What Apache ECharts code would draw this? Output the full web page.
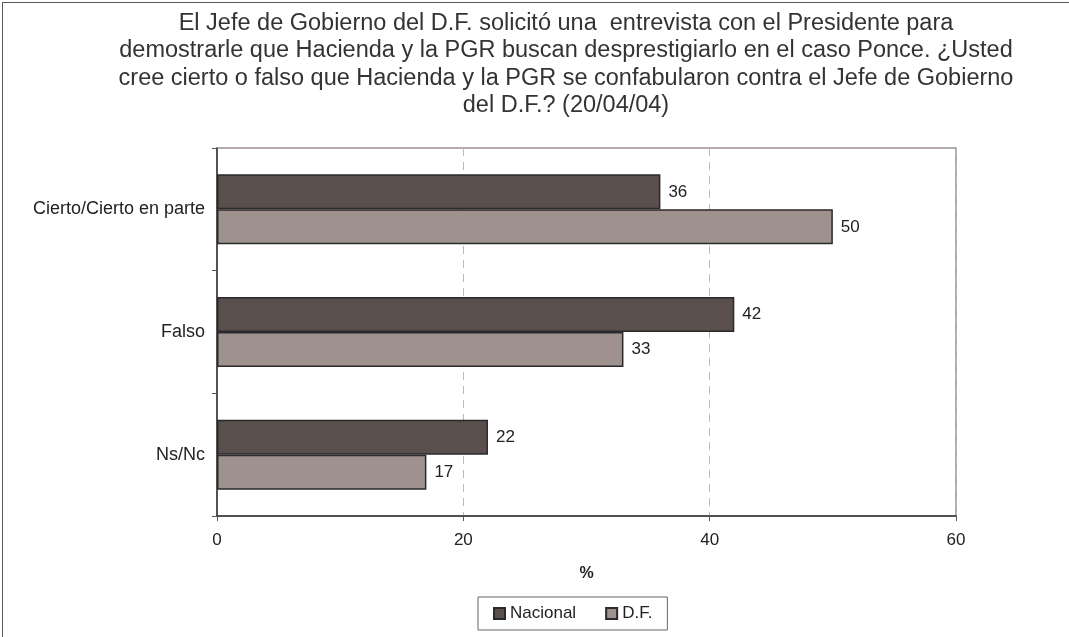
<!DOCTYPE html>
<html><head><meta charset="utf-8">
<script src="https://cdn.jsdelivr.net/npm/echarts@6/dist/echarts.min.js"></script>
<style>
html,body{margin:0;padding:0;background:#fff;}
#frame{position:absolute;left:2px;top:2px;width:1075px;height:645px;border:1px solid #5a5a5a;box-sizing:border-box;}
#c{position:absolute;left:0;top:0;width:1069px;height:637px;}
</style></head>
<body>
<div id="frame"></div>
<div id="c"></div>
<script>
const categories = ['Cierto/Cierto en parte', 'Falso', 'Ns/Nc'];
const nacional = [36, 42, 22];
const df = [50, 33, 17];
const xTicks = [0, 20, 40, 60];
const titleText = 'El Jefe de Gobierno del D.F. solicitó una  entrevista con el Presidente para\ndemostrarle que Hacienda y la PGR buscan desprestigiarlo en el caso Ponce. ¿Usted\ncree cierto o falso que Hacienda y la PGR se confabularon contra el Jefe de Gobierno\ndel D.F.? (20/04/04)';

const chart = echarts.init(document.getElementById('c'), null, {renderer: 'canvas'});
const font = 'Liberation Sans, Arial, sans-serif';
chart.setOption({
  animation: false,
  textStyle: {fontFamily: font},
  title: {
    text: titleText, left: 561, top: 5, textAlign: 'center',
    textStyle: {fontSize: 23.5, fontWeight: 'normal', color: '#333', lineHeight: 27.3, fontFamily: font}
  },
  legend: {
    data: ['Nacional', 'D.F.'],
    left: 478, top: 597, height: 34,
    padding: [8, 15, 8, 15],
    borderColor: '#666', borderWidth: 1,
    itemWidth: 11, itemHeight: 11, itemGap: 29,
    icon: 'rect',
    textStyle: {fontSize: 17, color: '#222', fontFamily: font}
  },
  grid: {left: 217, right: 113, top: 148, bottom: 121, containLabel: false, show: true, borderColor: '#9a8f8f', borderWidth: 1.5},
  xAxis: {
    type: 'value', min: 0, max: 60, interval: 20,
    name: '%', nameLocation: 'middle', nameGap: 50,
    nameTextStyle: {fontSize: 16, fontWeight: 'bold', color: '#222', fontFamily: font},
    axisLine: {show: true, lineStyle: {color: '#333', width: 1.5}},
    axisTick: {show: true, length: 5, lineStyle: {color: '#555'}},
    axisLabel: {fontSize: 17, color: '#222', margin: 16, fontFamily: font},
    splitLine: {show: true, lineStyle: {type: [8, 6], color: '#bbb'}}
  },
  yAxis: {
    type: 'category', data: categories, inverse: true,
    axisLine: {show: true, lineStyle: {color: '#333', width: 1.5}},
    axisTick: {show: true, length: 5, inside: false, lineStyle: {color: '#555'}},
    axisLabel: {fontSize: 18, color: '#222', margin: 12, fontFamily: font},
    splitLine: {show: false}
  },
  series: [
    {name: 'Nacional', type: 'bar', data: nacional, barGap: '0%', barCategoryGap: '43%',
     itemStyle: {color: '#5a4f4c', borderColor: '#2a2a2a', borderWidth: 1.5},
     label: {show: true, position: 'right', distance: 8, fontSize: 17, color: '#222', fontFamily: font}},
    {name: 'D.F.', type: 'bar', data: df, barGap: '0%', barCategoryGap: '43%',
     itemStyle: {color: '#9e918e', borderColor: '#2a2a2a', borderWidth: 1.5},
     label: {show: true, position: 'right', distance: 8, fontSize: 17, color: '#222', fontFamily: font}}
  ]
});
</script>
</body></html>
